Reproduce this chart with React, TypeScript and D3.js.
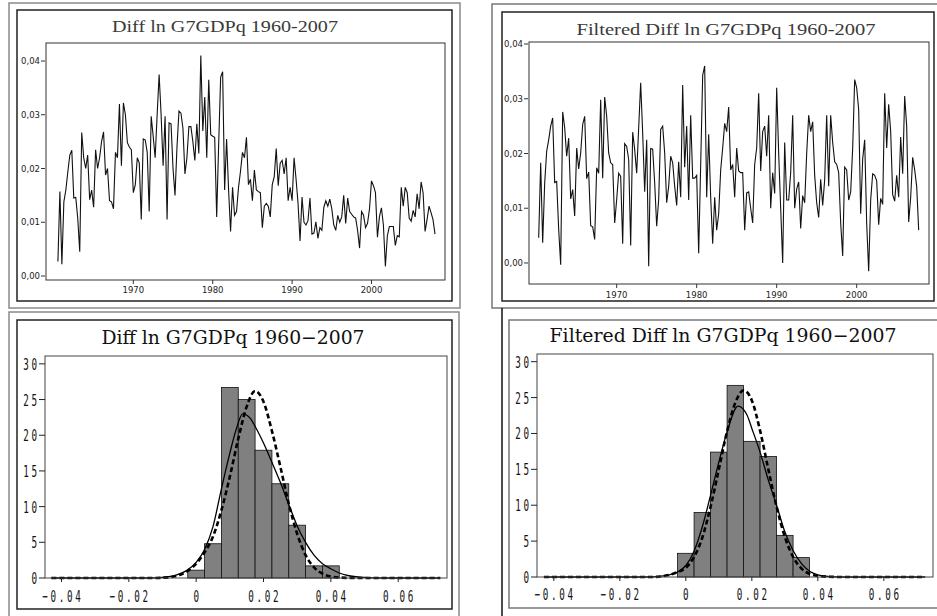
import React from "react";
import * as d3 from "d3";

// time series panels
const decadeTicks = [1970, 1980, 1990, 2000];
const levelTicks = [0, 0.01, 0.02, 0.03, 0.04];
const diffStart = 1960.5;
const filteredStart = 1960.25;

const diffLn = [
  0.0027, 0.0157, 0.0022, 0.0138, 0.016, 0.0194, 0.0225, 0.0234, 0.0145, 0.0146,
  0.0107, 0.0045, 0.0267, 0.022, 0.02, 0.0225, 0.0142, 0.016, 0.0128, 0.0235,
  0.02, 0.022, 0.025, 0.0268, 0.0188, 0.02, 0.014, 0.0138, 0.0125, 0.023,
  0.022, 0.032, 0.0205, 0.0322, 0.03, 0.0248, 0.024, 0.0235, 0.0155, 0.017,
  0.022, 0.021, 0.0105, 0.0255, 0.0253, 0.023, 0.012, 0.0297, 0.026, 0.022,
  0.03, 0.0375, 0.03, 0.0205, 0.0297, 0.0105, 0.0285, 0.0283, 0.02, 0.015,
  0.024, 0.0307, 0.0303, 0.0275, 0.019, 0.022, 0.0278, 0.0278, 0.025, 0.0215,
  0.0283, 0.0228, 0.041, 0.027, 0.0333, 0.022, 0.0365, 0.0263, 0.026, 0.0258,
  0.011, 0.0245, 0.037, 0.038, 0.016, 0.0255, 0.016, 0.0083, 0.0165, 0.0113,
  0.012, 0.0165, 0.0195, 0.023, 0.022, 0.0258, 0.017, 0.018, 0.014, 0.0197,
  0.016, 0.0157, 0.0155, 0.009, 0.013, 0.0135, 0.013, 0.011, 0.017, 0.0185,
  0.0237, 0.0168, 0.021, 0.0215, 0.019, 0.022, 0.014, 0.0165, 0.014, 0.022,
  0.018, 0.0135, 0.0065, 0.0147, 0.01, 0.0095, 0.0103, 0.0145, 0.0078, 0.008,
  0.0101, 0.007, 0.009, 0.0085, 0.0128, 0.014, 0.013, 0.0143, 0.0125, 0.0095,
  0.0085, 0.0113, 0.01, 0.011, 0.015, 0.0098, 0.0145, 0.012, 0.0115, 0.011,
  0.0108, 0.0085, 0.0052, 0.012, 0.0113, 0.009, 0.0098, 0.0125, 0.0177, 0.0168,
  0.0155, 0.0072, 0.011, 0.0127, 0.0095, 0.0018, 0.0075, 0.0092, 0.0092, 0.0092,
  0.0057, 0.0075, 0.0073, 0.0165, 0.013, 0.0165, 0.0155, 0.0108, 0.0102, 0.0122,
  0.011, 0.0153, 0.0125, 0.0175, 0.0155, 0.0083, 0.0105, 0.013, 0.0118, 0.0105,
  0.0078,
];

const filteredDiffLn = [
  0.0046, 0.0183, 0.0037, 0.0146, 0.0204, 0.0225, 0.025, 0.0265, 0.0147, 0.0149,
  0.0061, -0.0003, 0.0276, 0.0247, 0.0195, 0.0228, 0.0117, 0.0134, 0.0086, 0.021,
  0.0172, 0.0201, 0.0253, 0.0268, 0.0154, 0.0166, 0.0068, 0.0066, 0.0043, 0.0174,
  0.0164, 0.0298, 0.0155, 0.0303, 0.0268, 0.0201, 0.0183, 0.018, 0.0073, 0.0116,
  0.0164, 0.0158, 0.0035, 0.0218, 0.0213, 0.0189, 0.0032, 0.0239, 0.0207, 0.0164,
  0.0247, 0.0329, 0.0237, 0.013, 0.0225, -0.0006, 0.0209, 0.0208, 0.0146, 0.0067,
  0.0116, 0.0244, 0.025, 0.0201, 0.011, 0.014, 0.0195, 0.0183, 0.014, 0.0105,
  0.0185, 0.012, 0.0325, 0.0175, 0.025, 0.0115, 0.027, 0.0155, 0.0155, 0.016,
  0.0018, 0.018, 0.0343, 0.036, 0.012, 0.0235, 0.012, 0.0035, 0.012, 0.006,
  0.009, 0.017, 0.021, 0.0255, 0.024, 0.0285, 0.017, 0.018, 0.012, 0.021,
  0.0168, 0.0165, 0.0165, 0.006, 0.0128, 0.013, 0.01, 0.0073, 0.018, 0.021,
  0.031, 0.0168, 0.024, 0.025, 0.0195, 0.027, 0.01, 0.0165, 0.0127, 0.032,
  0.02, 0.01, 0.0, 0.022, 0.0115, 0.0115, 0.0165, 0.027, 0.01, 0.0135,
  0.0148, 0.0063, 0.0123, 0.011, 0.02, 0.027, 0.024, 0.0258, 0.016, 0.011,
  0.0083, 0.0153, 0.0105, 0.0152, 0.027, 0.014, 0.027, 0.022, 0.0185, 0.018,
  0.0165, 0.0073, 0.0013, 0.0175, 0.017, 0.0115, 0.013, 0.021, 0.0335, 0.032,
  0.028, 0.009, 0.019, 0.0225, 0.0072, -0.0015, 0.0115, 0.0163, 0.016, 0.015,
  0.007, 0.0118, 0.0107, 0.031, 0.021, 0.029, 0.024, 0.0125, 0.0113, 0.016,
  0.012, 0.023, 0.0163, 0.0305, 0.025, 0.0075, 0.012, 0.0193, 0.017, 0.014,
  0.006,
];

// histogram panels (percent of observations per 0.005 bin)
const binCenters = [0, 0.005, 0.01, 0.015, 0.02, 0.025, 0.03, 0.035, 0.04];
const binWidth = 0.005;
const diffPct = [1.1, 4.8, 26.7, 25.0, 17.9, 13.2, 7.4, 1.7, 1.7];
const filteredPct = [3.3, 9.0, 17.4, 26.7, 18.9, 16.8, 5.8, 2.7];
const pctTicks = [0, 5, 10, 15, 20, 25, 30];
const rateTicks = [-0.04, -0.02, 0, 0.02, 0.04, 0.06];

const diffKernelX = [-0.043, -0.015, -0.01, -0.006, -0.003, 0, 0.0025, 0.005, 0.0075, 0.01, 0.012, 0.0138, 0.016, 0.018, 0.02, 0.0225, 0.025, 0.0275, 0.03, 0.0325, 0.035, 0.0375, 0.04, 0.0425, 0.045, 0.05, 0.055, 0.0725];
const diffKernelY = [0, 0, 0.1, 0.4, 1.0, 2.2, 4.0, 7.2, 12.5, 17.5, 21.0, 23.0, 22.4, 20.8, 18.9, 16.2, 13.4, 10.3, 7.3, 5.0, 3.2, 2.0, 1.3, 0.7, 0.35, 0.08, 0, 0];
const diffNormalX = [-0.043, -0.012, -0.008, -0.005, -0.0025, 0, 0.0025, 0.005, 0.0075, 0.01, 0.0125, 0.015, 0.0175, 0.02, 0.0225, 0.025, 0.0275, 0.03, 0.0325, 0.035, 0.0375, 0.04, 0.043, 0.048, 0.0725];
const diffNormalY = [0, 0, 0.1, 0.4, 1.0, 2.0, 3.6, 5.8, 9.5, 14.2, 19.5, 24.0, 26.2, 24.7, 20.6, 15.6, 10.4, 6.2, 3.2, 1.5, 0.6, 0.2, 0.05, 0, 0];

const filtKernelX = [-0.043, -0.012, -0.008, -0.005, -0.0025, 0, 0.0025, 0.005, 0.0075, 0.01, 0.0125, 0.0158, 0.0185, 0.02, 0.0225, 0.025, 0.0275, 0.03, 0.0325, 0.035, 0.0375, 0.04, 0.043, 0.047, 0.0725];
const filtKernelY = [0, 0, 0.1, 0.3, 0.7, 1.6, 3.6, 7.0, 11.4, 16.0, 20.2, 23.8, 22.6, 20.7, 17.4, 13.5, 10.0, 6.3, 3.7, 1.9, 0.8, 0.3, 0.1, 0, 0];
const filtNormalX = [-0.043, -0.01, -0.006, -0.003, 0, 0.0025, 0.005, 0.0075, 0.01, 0.0125, 0.015, 0.0175, 0.02, 0.0225, 0.025, 0.0275, 0.03, 0.0325, 0.035, 0.0375, 0.04, 0.043, 0.048, 0.0725];
const filtNormalY = [0, 0, 0.2, 0.6, 1.3, 2.8, 5.5, 9.8, 15.0, 20.3, 24.3, 26.0, 24.6, 20.4, 15.0, 9.8, 5.6, 2.8, 1.2, 0.45, 0.15, 0.04, 0, 0];

type Box = { x0: number; x1: number; y0: number; y1: number };

const commaFmt = (v: number) => d3.format(".2f")(v).replace(".", ",");

function SeriesPanel(props: {
  title: string;
  values: number[];
  start: number;
  box: Box;
  xDomain: [number, number];
  yDomain: [number, number];
  titleX: number;
  titleY: number;
  titleLen: number;
  xLabelY: number;
}) {
  const { box, values, start } = props;
  const x = d3.scaleLinear().domain(props.xDomain).range([box.x0, box.x1]);
  const y = d3.scaleLinear().domain(props.yDomain).range([box.y1, box.y0]);
  const line = d3
    .line<number>()
    .x((_, i) => x(start + i / 4))
    .y((d) => y(d));
  return (
    <g>
      <text
        x={props.titleX}
        y={props.titleY}
        textAnchor="middle"
        fontFamily="'Liberation Serif', serif"
        fontSize={17}
        fill="#3a3a3a"
        textLength={props.titleLen}
        lengthAdjust="spacingAndGlyphs"
      >
        {props.title}
      </text>
      <rect
        x={box.x0}
        y={box.y0}
        width={box.x1 - box.x0}
        height={box.y1 - box.y0}
        fill="none"
        stroke="#333"
        strokeWidth={1}
      />
      {levelTicks.map((t) => (
        <g key={t}>
          <line x1={box.x0 - 5} x2={box.x0 - 1} y1={y(t)} y2={y(t)} stroke="#333" />
          <text
            x={box.x0 - 6}
            y={y(t) + 3}
            textAnchor="end"
            fontFamily="'DejaVu Sans', sans-serif"
            fontSize={8.5}
            fill="#222"
          >
            {commaFmt(t)}
          </text>
        </g>
      ))}
      {decadeTicks.map((t) => (
        <g key={t}>
          <line x1={x(t)} x2={x(t)} y1={box.y1} y2={box.y1 + 4} stroke="#333" />
          <text
            x={x(t)}
            y={props.xLabelY}
            textAnchor="middle"
            fontFamily="'DejaVu Sans', sans-serif"
            fontSize={8.5}
            fill="#222"
          >
            {t}
          </text>
        </g>
      ))}
      <path d={line(values) || ""} fill="none" stroke="#111" strokeWidth={1.1} />
    </g>
  );
}

// tall, narrow, widely spaced tick labels
function NarrowText(props: { x: number; y: number; text: string; anchor: "middle" | "end" }) {
  const ls = 4.6;
  const dx = props.anchor === "middle" ? ls / 2 : ls;
  return (
    <g transform={`translate(${props.x},${props.y}) scale(0.58,1)`}>
      <text
        x={0}
        y={0}
        dx={dx}
        textAnchor={props.anchor}
        fontFamily="'DejaVu Sans Mono', monospace"
        fontSize={16}
        letterSpacing={ls}
        fill="#111"
      >
        {props.text}
      </text>
    </g>
  );
}

const rateFmt = (v: number) => (Math.abs(v) < 1e-9 ? "0" : d3.format(".2f")(v));

function HistPanel(props: {
  title: string;
  pct: number[];
  kernelX: number[];
  kernelY: number[];
  normalX: number[];
  normalY: number[];
  box: Box;
  xDomain: [number, number];
  yDomain: [number, number];
  titleX: number;
  titleY: number;
  titleLen: number;
  xLabelY: number;
}) {
  const { box } = props;
  const x = d3.scaleLinear().domain(props.xDomain).range([box.x0, box.x1]);
  const y = d3.scaleLinear().domain(props.yDomain).range([box.y1, box.y0]);
  const curve = d3
    .line<number>()
    .curve(d3.curveMonotoneX);
  const kernelPath = curve
    .x((d) => x(d))
    .y((_, i) => y(props.kernelY[i]))(props.kernelX);
  const normalPath = curve
    .x((d) => x(d))
    .y((_, i) => y(props.normalY[i]))(props.normalX);
  return (
    <g>
      <text
        x={props.titleX}
        y={props.titleY}
        textAnchor="middle"
        fontFamily="'DejaVu Serif', serif"
        fontSize={19}
        fontWeight={500}
        fill="#111"
        textLength={props.titleLen}
        lengthAdjust="spacingAndGlyphs"
      >
        {props.title}
      </text>
      {props.pct.map((p, i) => (
        <rect
          key={i}
          x={x(binCenters[i] - binWidth / 2)}
          y={y(p)}
          width={x(binCenters[i] + binWidth / 2) - x(binCenters[i] - binWidth / 2)}
          height={y(0) - y(p)}
          fill="#808080"
          stroke="#111"
          strokeWidth={0.8}
        />
      ))}
      <path d={kernelPath || ""} fill="none" stroke="#000" strokeWidth={1.3} />
      <path
        d={normalPath || ""}
        fill="none"
        stroke="#000"
        strokeWidth={2.6}
        strokeDasharray="5,3"
      />
      <rect
        x={box.x0}
        y={box.y0}
        width={box.x1 - box.x0}
        height={box.y1 - box.y0}
        fill="none"
        stroke="#444"
        strokeWidth={1}
      />
      {pctTicks.map((t) => (
        <g key={t}>
          <line x1={box.x0 - 6} x2={box.x0} y1={y(t)} y2={y(t)} stroke="#222" />
          <NarrowText x={box.x0 - 8} y={y(t) + 6} text={String(t)} anchor="end" />
        </g>
      ))}
      {rateTicks.map((t) => (
        <g key={t}>
          <line x1={x(t)} x2={x(t)} y1={box.y1} y2={box.y1 + 4} stroke="#222" />
          <NarrowText x={x(t)} y={props.xLabelY} text={rateFmt(t)} anchor="middle" />
        </g>
      ))}
    </g>
  );
}

export default function App() {
  return (
    <div style={{ position: "absolute", left: 0, top: 0, width: 937, height: 616, background: "#fff" }}>
      <svg width={937} height={616} style={{ display: "block" }}>
        <rect width={937} height={616} fill="#fff" />
        {/* panel frames */}
        <rect x={9} y={3} width={451} height={305} fill="none" stroke="#8a8a8a" strokeWidth={1.5} />
        <rect x={17} y={10} width={435} height={291} fill="none" stroke="#222" strokeWidth={1.5} />
        <rect x={492} y={4} width={446} height={304} fill="none" stroke="#777" strokeWidth={1.5} />
        <rect x={502} y={12} width={432} height={289} fill="none" stroke="#222" strokeWidth={1.5} />
        <rect x={9} y={312} width={450} height={310} fill="none" stroke="#8a8a8a" strokeWidth={1.5} />
        <rect x={17} y={320} width={435} height={289} fill="none" stroke="#222" strokeWidth={1.5} />
        <line x1={502} x2={502} y1={308} y2={616} stroke="#111" strokeWidth={1.5} />
        <rect x={509} y={320} width={432} height={288} fill="none" stroke="#777" strokeWidth={1.5} />

        <SeriesPanel
          title="Diff ln G7GDPq 1960-2007"
          values={diffLn}
          start={diffStart}
          box={{ x0: 46, x1: 445, y0: 43, y1: 280 }}
          xDomain={[1959.0, 2009.26]}
          yDomain={[-0.00074, 0.04335]}
          titleX={225}
          titleY={32}
          titleLen={226}
          xLabelY={293}
        />
        <SeriesPanel
          title="Filtered Diff ln G7GDPq 1960-2007"
          values={filteredDiffLn}
          start={filteredStart}
          box={{ x0: 529, x1: 929, y0: 42, y1: 284 }}
          xDomain={[1959.04, 2009.04]}
          yDomain={[-0.00384, 0.04037]}
          titleX={726}
          titleY={35}
          titleLen={299}
          xLabelY={298}
        />
        <HistPanel
          title="Diff ln G7GDPq 1960−2007"
          pct={diffPct}
          kernelX={diffKernelX}
          kernelY={diffKernelY}
          normalX={diffNormalX}
          normalY={diffNormalY}
          box={{ x0: 45, x1: 447, y0: 356, y1: 578 }}
          xDomain={[-0.0449, 0.0745]}
          yDomain={[0, 31.1]}
          titleX={233}
          titleY={344}
          titleLen={263}
          xLabelY={602}
        />
        <HistPanel
          title="Filtered Diff ln G7GDPq 1960−2007"
          pct={filteredPct}
          kernelX={filtKernelX}
          kernelY={filtKernelY}
          normalX={filtNormalX}
          normalY={filtNormalY}
          box={{ x0: 537, x1: 933, y0: 354, y1: 577 }}
          xDomain={[-0.0451, 0.0749]}
          yDomain={[0, 31.07]}
          titleX={723}
          titleY={342}
          titleLen={347}
          xLabelY={600}
        />
      </svg>
    </div>
  );
}
